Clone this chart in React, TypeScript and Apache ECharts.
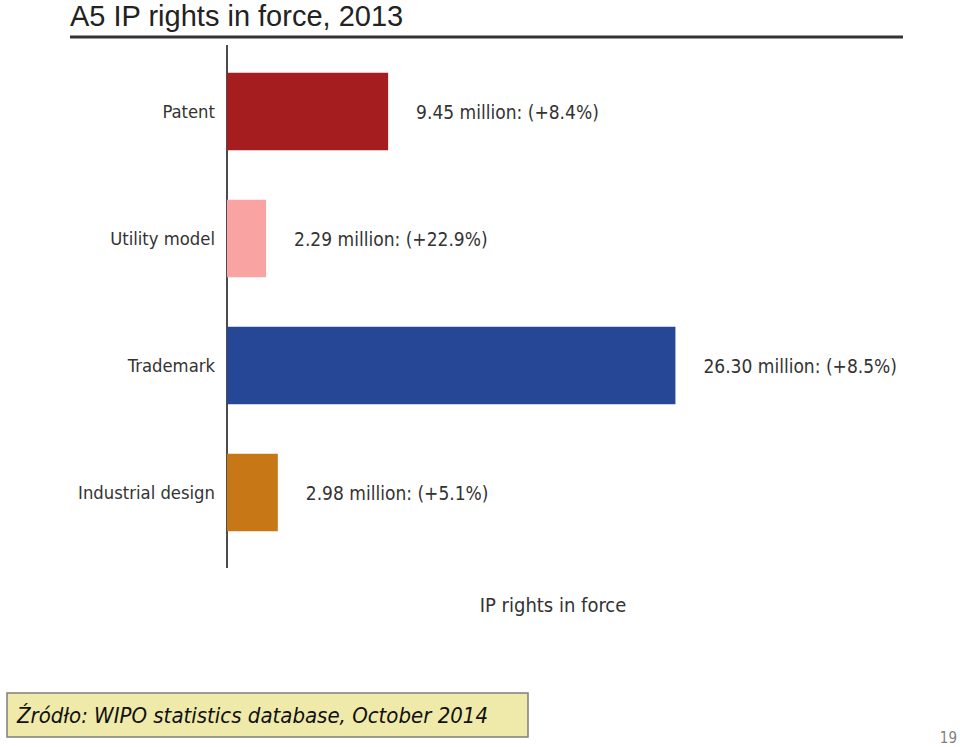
import React, { useEffect, useRef } from "react";
import * as echarts from "echarts";

const categories = ["Patent", "Utility model", "Trademark", "Industrial design"];
const values = [9.45, 2.29, 26.3, 2.98];
const growth = ["+8.4%", "+22.9%", "+8.5%", "+5.1%"];
const colors = ["#A51D1F", "#F9A3A3", "#264796", "#C87716"];

const NARROW = "'Liberation Sans Narrow', 'DejaVu Sans Condensed', 'Roboto Condensed', 'DejaVu Sans', sans-serif";

export default function App() {
  const ref = useRef<HTMLDivElement>(null);
  useEffect(() => {
    if (!ref.current) return;
    const chart = echarts.init(ref.current, null, { renderer: "svg" });
    chart.setOption({
      animation: false,
      backgroundColor: "#ffffff",
      grid: { left: 227, top: 48, width: 511.5, height: 508, containLabel: false },
      xAxis: {
        type: "value",
        min: 0,
        max: 30,
        show: false,
      },
      yAxis: {
        type: "category",
        inverse: true,
        data: categories,
        axisLine: { show: false },
        axisTick: { show: false },
        axisLabel: {
          margin: 12,
          fontFamily: NARROW,
          fontSize: 18.3,
          color: "#333333",
        },
      },
      series: [
        {
          type: "bar",
          barCategoryGap: "39%",
          data: values.map((v, i) => ({ value: v, itemStyle: { color: colors[i] } })),
          label: {
            show: true,
            position: "right",
            distance: 28,
            fontFamily: NARROW,
            fontSize: 19,
            color: "#333333",
            formatter: (p: any) => `${values[p.dataIndex].toFixed(2)} million: (${growth[p.dataIndex]})`,
          },
        },
      ],
      graphic: [
        {
          type: "text",
          left: 70,
          top: 1,
          style: { text: "A5 IP rights in force, 2013", font: "29px 'Liberation Sans', Arial, sans-serif", fill: "#222222" },
        },
        {
          type: "line",
          shape: { x1: 70, y1: 37, x2: 903, y2: 37 },
          style: { stroke: "#333333", lineWidth: 3 },
        },
        {
          type: "line",
          shape: { x1: 227, y1: 45, x2: 227, y2: 568 },
          style: { stroke: "#111111", lineWidth: 1.5 },
        },
        {
          type: "text",
          x: 553,
          y: 605,
          style: { text: "IP rights in force", font: `20px ${NARROW}`, fill: "#333333", align: "center", verticalAlign: "middle" },
        },
        {
          type: "rect",
          shape: { x: 7, y: 693, width: 521, height: 44 },
          style: { fill: "#EFEAA9", stroke: "#7f7f7f", lineWidth: 1.5 },
        },
        {
          type: "text",
          x: 17,
          y: 715,
          style: { text: "Źródło: WIPO statistics database, October 2014", font: `italic 22px ${NARROW}`, fill: "#111111", verticalAlign: "middle" },
        },
        {
          type: "text",
          x: 957,
          y: 738,
          style: { text: "19", font: `15px ${NARROW}`, fill: "#7f7f7f", align: "right", verticalAlign: "middle" },
        },
      ],
    });
    return () => chart.dispose();
  }, []);
  return <div ref={ref} style={{ position: "absolute", left: 0, top: 0, width: 960, height: 747 }} />;
}
